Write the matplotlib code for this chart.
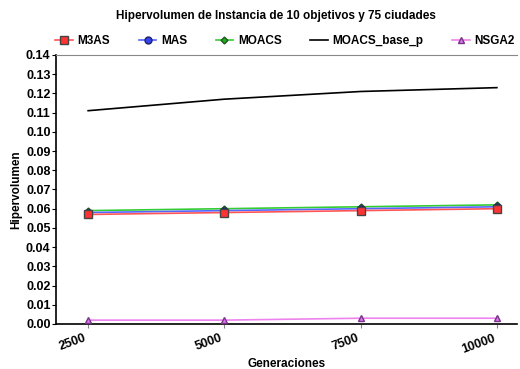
import matplotlib
matplotlib.use("Agg")
import matplotlib.pyplot as plt

plt.rcParams['font.family'] = ['Liberation Sans', 'DejaVu Sans']
plt.rcParams['font.weight'] = 'bold'

generaciones = [2500, 5000, 7500, 10000]
m3as = [0.057, 0.058, 0.059, 0.060]
mas = [0.058, 0.059, 0.060, 0.061]
moacs = [0.059, 0.060, 0.061, 0.062]
moacs_base_p = [0.111, 0.117, 0.121, 0.123]
nsga2 = [0.002, 0.002, 0.003, 0.003]

fig = plt.figure(figsize=(5.2, 3.69), dpi=100)
ax = fig.add_axes([0.108, 0.122, 0.886, 0.729])

ax.plot(generaciones, moacs_base_p, color='black', lw=1.2, label='MOACS_base_p', zorder=2)
ax.plot(generaciones, moacs, color='#33cc33', lw=1.2, marker='D', ms=3.5,
        mfc='#22aa22', mec='#225522', label='MOACS', zorder=3)
ax.plot(generaciones, mas, color='#5566ff', lw=1.2, marker='o', ms=5,
        mfc='#3344ee', mec='#222266', label='MAS', zorder=4)
ax.plot(generaciones, m3as, color='#ff5555', lw=1.2, marker='s', ms=6,
        mfc='#ff3333', mec='#444444', label='M3AS', zorder=5)
ax.plot(generaciones, nsga2, color='#ee82ee', lw=1.2, marker='^', ms=5,
        mfc='#dd77ee', mec='#773388', label='NSGA2', zorder=3)

ax.set_xlim(1913, 10367)
ax.set_ylim(0, 0.14)
ax.set_yticks([i / 100 for i in range(15)])
ax.set_yticklabels([f"{i / 100:.2f}" for i in range(15)])
ax.set_xticks(generaciones)
ax.set_xticklabels([str(g) for g in generaciones], rotation=20, ha='right')
ax.tick_params(axis='both', labelsize=9, length=3, width=0.8, pad=1)
ax.tick_params(axis='x', colors='#888888', labelcolor='black', pad=3)

ax.spines['right'].set_visible(False)
ax.spines['top'].set_color('#888888')
ax.spines['left'].set_linewidth(1.2)
ax.spines['bottom'].set_linewidth(1.2)

ax.set_xlabel('Generaciones', fontsize=8.5, fontweight='bold', labelpad=2)
ax.set_ylabel('Hipervolumen', fontsize=8.5, fontweight='bold', labelpad=3)
fig.text(0.53, 0.957, 'Hipervolumen de Instancia de 10 objetivos y 75 ciudades',
         fontsize=8.5, fontweight='bold', ha='center', va='center')

handles, labels = ax.get_legend_handles_labels()
order = ['M3AS', 'MAS', 'MOACS', 'MOACS_base_p', 'NSGA2']
hl = dict(zip(labels, handles))
fig.legend([hl[k] for k in order], order, loc='center', bbox_to_anchor=(0.548, 0.889),
           ncol=5, frameon=False, handlelength=1.5, columnspacing=2.4,
           handletextpad=0.4, borderpad=0, prop={'weight': 'bold', 'size': 8.5})

fig.savefig('out.png', dpi=100)
